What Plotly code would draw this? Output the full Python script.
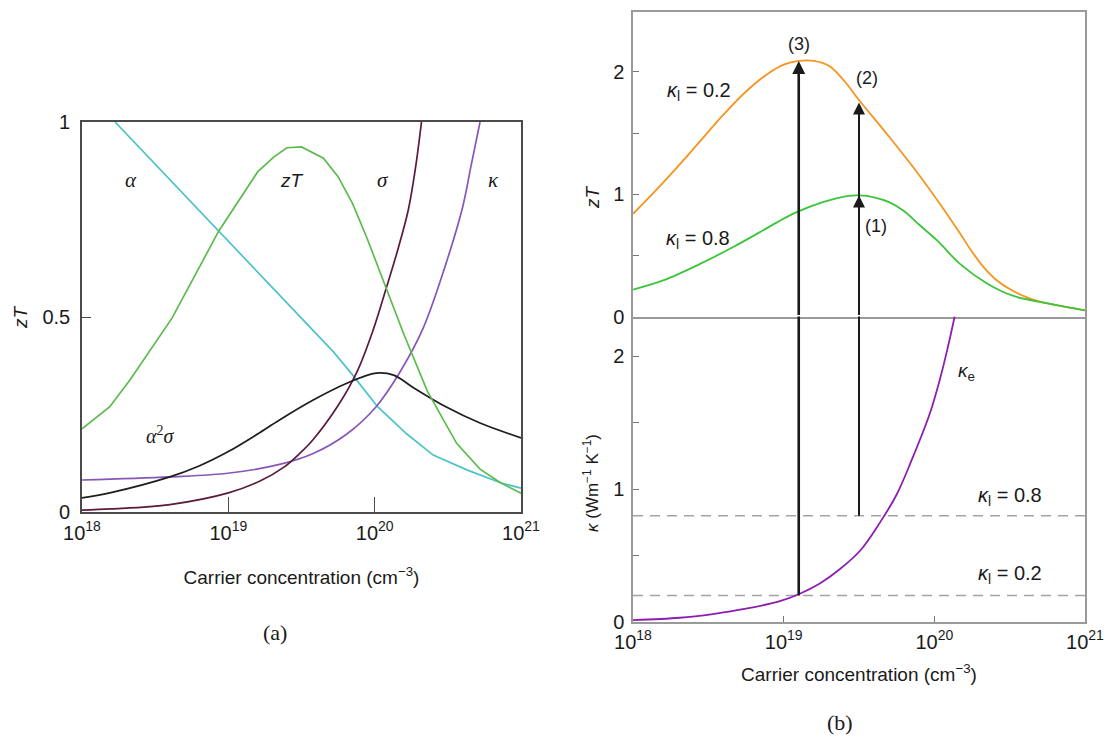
import plotly.graph_objects as go

W, H = 1109, 742

# ---------------- Panel (a) data: log10(carrier concentration) and values ----------------
alpha_logn = [18.226, 18.5, 18.934, 19.2, 19.49, 19.58, 19.72, 19.85, 20.02, 20.22, 20.40, 20.63, 20.86, 21.0]
alpha_val = [1.0, 0.892, 0.72, 0.615, 0.50, 0.467, 0.41, 0.351, 0.27, 0.20, 0.146, 0.108, 0.075, 0.061]

zta_logn = [18.0, 18.19, 18.33, 18.465, 18.615, 18.934, 19.2, 19.31, 19.40, 19.50, 19.58, 19.65, 19.75,
            19.85, 19.95, 20.08, 20.20, 20.36, 20.56, 20.72, 20.86, 21.0]
zta_val = [0.213, 0.27, 0.34, 0.415, 0.497, 0.72, 0.872, 0.91, 0.934, 0.936, 0.92, 0.907, 0.86,
           0.79, 0.70, 0.574, 0.455, 0.31, 0.176, 0.11, 0.075, 0.048]

sigma_logn = [18.0, 18.2, 18.6, 19.0, 19.22, 19.38, 19.49, 19.58, 19.75, 19.88, 19.99, 20.08, 20.16, 20.23, 20.28, 20.32]
sigma_val = [0.005, 0.008, 0.019, 0.049, 0.08, 0.115, 0.151, 0.186, 0.273, 0.36, 0.467, 0.575, 0.675, 0.775, 0.885, 1.0]

kappa_logn = [18.0, 18.6, 19.01, 19.35, 19.58, 19.81, 20.01, 20.17, 20.33, 20.49, 20.60, 20.66, 20.72]
kappa_val = [0.082, 0.09, 0.10, 0.122, 0.15, 0.20, 0.27, 0.357, 0.47, 0.64, 0.78, 0.89, 1.0]

pf_logn = [18.0, 18.19, 18.6, 18.8, 19.0, 19.2, 19.35, 19.58, 19.81, 20.01, 20.13, 20.26, 20.49, 20.72, 21.0]
pf_val = [0.036, 0.049, 0.09, 0.118, 0.155, 0.20, 0.236, 0.287, 0.33, 0.356, 0.351, 0.32, 0.269, 0.228, 0.19]

# ---------------- Panel (b) data ----------------
zt02_logn = [18.0, 18.15, 18.3, 18.45, 18.6, 18.75, 18.9, 19.0, 19.1, 19.2, 19.3, 19.4, 19.5,
             19.68, 19.86, 20.02, 20.17, 20.25, 20.33, 20.42, 20.52, 20.65, 20.8, 21.0]
zt02_val = [0.84, 1.03, 1.23, 1.44, 1.65, 1.84, 1.99, 2.06, 2.09, 2.09, 2.05, 1.93, 1.77,
            1.50, 1.22, 0.95, 0.68, 0.53, 0.40, 0.29, 0.21, 0.14, 0.095, 0.05]

zt08_logn = [18.0, 18.2, 18.445, 18.665, 18.843, 18.97, 19.09, 19.26, 19.42, 19.50, 19.6, 19.7, 19.8,
             19.9, 20.02, 20.17, 20.35, 20.52, 20.75, 21.0]
zt08_val = [0.22, 0.295, 0.43, 0.568, 0.69, 0.78, 0.855, 0.935, 0.985, 0.99, 0.975, 0.935, 0.86,
            0.75, 0.62, 0.43, 0.27, 0.17, 0.107, 0.05]

ke_logn = [18.0, 18.31, 18.53, 18.75, 18.975, 19.10, 19.24, 19.37, 19.51, 19.64, 19.75, 19.85,
           19.97, 20.04, 20.09, 20.135]
ke_val = [0.014, 0.032, 0.06, 0.10, 0.157, 0.209, 0.29, 0.395, 0.54, 0.75, 0.96, 1.22,
          1.57, 1.84, 2.07, 2.30]

kl_levels = [0.8, 0.2]
n_span = [18.0, 21.0]

# arrows: label, log10 n, starting kappa, zT tip
arrow_labels = ["(3)", "(2)", "(1)"]
arrow_logn = [19.10, 19.50, 19.50]
arrow_kappa = [0.2, 0.8, 0.8]
arrow_zt = [2.09, 1.75, 0.99]

x_tickvals = [1e18, 1e19, 1e20, 1e21]
x_ticktext = ["10<sup>18</sup>", "10<sup>19</sup>", "10<sup>20</sup>", "10<sup>21</sup>"]


def conc(logs):
    return [10 ** v for v in logs]


SANS = "Liberation Sans, Arial, sans-serif"
NARROW = "Liberation Sans Narrow, Liberation Sans, Arial, sans-serif"
SERIF = "Liberation Serif, DejaVu Serif, serif"
FRAME_A = "#4a4a4a"
FRAME_B = "#9a9a9a"

fig = go.Figure()


def line(xs, ys, color, width, xa, ya, dash=None, shape="linear"):
    fig.add_trace(go.Scatter(x=xs, y=ys, mode="lines",
                             line=dict(color=color, width=width, dash=dash, shape=shape),
                             xaxis=xa, yaxis=ya, showlegend=False, hoverinfo="skip"))


# panel (a)
line(conc(alpha_logn), alpha_val, "#4cc2c9", 1.7, "x", "y")
line(conc(kappa_logn), kappa_val, "#8656b8", 1.7, "x", "y", shape="spline")
line(conc(sigma_logn), sigma_val, "#5b1a3c", 1.7, "x", "y", shape="spline")
line(conc(pf_logn), pf_val, "#1e1e1e", 1.7, "x", "y", shape="spline")
line(conc(zta_logn), zta_val, "#5bbb4c", 1.7, "x", "y")

# panel (b) top
line(conc(zt02_logn), zt02_val, "#f7941d", 1.8, "x2", "y2", shape="spline")
line(conc(zt08_logn), zt08_val, "#3dc43d", 1.8, "x2", "y2", shape="spline")

# panel (b) bottom
for lv in kl_levels:
    line(conc(n_span), [lv, lv], "#a3a3a3", 1.6, "x3", "y3", dash="10px,7px")
line(conc(ke_logn), ke_val, "#8e1eb0", 1.8, "x3", "y3", shape="spline")

# arrow shafts in the bottom panel (from kappa level up to the top of the panel)
arrow_widths = [2.6, 2.0, 2.0]
for i in range(2):
    line(conc([arrow_logn[i], arrow_logn[i]]), [arrow_kappa[i], 3.0], "#1a1a1a", arrow_widths[i], "x3", "y3")


def px(x):
    return x / W


def py(y):
    return 1 - y / H


annotations = []
# arrows in the top panel (tail at zT = 0)
for i in range(3):
    annotations.append(dict(x=arrow_logn[i], y=arrow_zt[i], xref="x2", yref="y2",
                            ax=arrow_logn[i], ay=0, axref="x2", ayref="y2",
                            showarrow=True, arrowhead=2, arrowsize=1.0 if i == 0 else 1.2,
                            arrowwidth=arrow_widths[i], arrowcolor="#1a1a1a", text=""))


def text(t, x, y, size=18, family=SANS, angle=0, color="#1a1a1a"):
    annotations.append(dict(text=t, x=px(x), y=py(y), xref="paper", yref="paper",
                            showarrow=False, xanchor="center", yanchor="middle",
                            textangle=angle, font=dict(family=family, size=size, color=color)))


# panel (a) curve labels
text("<i>α</i>", 131, 180, 21, SERIF)
text("<i>zT</i>", 292, 180, 19, SANS)
text("<i>σ</i>", 383, 180, 21, SERIF)
text("<i>κ</i>", 493, 180, 21, SERIF)
text("<i>α</i><sup>2</sup><i>σ</i>", 160, 435, 20, SERIF)
text("(a)", 275, 632, 22, SERIF)

# panel (b) labels
text("<i>κ</i><sub>l</sub> = 0.2", 699, 92, 20)
text("<i>κ</i><sub>l</sub> = 0.8", 698, 240, 20)
text(arrow_labels[0], 799, 44, 18)
text(arrow_labels[1], 867, 78, 18)
text(arrow_labels[2], 876, 226, 18)
text("<i>κ</i><sub>e</sub>", 966, 372, 19)
text("<i>κ</i><sub>l</sub> = 0.8", 1010, 496, 20)
text("<i>κ</i><sub>l</sub> = 0.2", 1010, 574, 20)
text("(b)", 840, 722, 22, SERIF)

# y-axis titles
text("<i>zT</i>", 21, 317, 19, SANS, angle=-90)
text("<i>zT</i>", 592, 197, 19, SANS, angle=-90)
text("<i>κ</i> (Wm<sup>−1</sup> K<sup>−1</sup>)", 591, 483, 17, NARROW, angle=-90)

tickfont = dict(family=SANS, size=20, color="#1a1a1a")
titlefont = dict(family=NARROW, size=19, color="#1a1a1a")

xa_common = dict(type="log", range=[18, 21], showgrid=False, zeroline=False, automargin=False,
                 showline=True, tickvals=x_tickvals, ticktext=x_ticktext, tickfont=tickfont)

fig.update_layout(
    width=W, height=H, margin=dict(l=0, r=0, t=0, b=0, pad=0),
    paper_bgcolor="white", plot_bgcolor="white",
    xaxis=dict(**xa_common, domain=[px(82), px(521)], anchor="y", mirror=True,
               ticks="inside", ticklen=15, tickcolor=FRAME_A, tickwidth=1.3,
               linecolor=FRAME_A, linewidth=1.6, ticklabelstandoff=2,
               title=dict(text="Carrier concentration (cm<sup>−3</sup>)", font=titlefont, standoff=28)),
    yaxis=dict(domain=[py(512), py(122)], range=[0, 1], anchor="x", showgrid=False, zeroline=False,
               showline=True, mirror=True, linecolor=FRAME_A, linewidth=1.6, automargin=False,
               tickvals=[0, 0.5, 1], ticktext=["0", "0.5", "1"], ticks="inside", ticklen=9,
               tickcolor=FRAME_A, tickwidth=1.3, tickfont=tickfont, ticklabelstandoff=6),
    xaxis2=dict(**{k: v for k, v in xa_common.items() if k not in ("tickvals", "ticktext")},
                domain=[px(633), px(1085)], anchor="y2", mirror=True, showticklabels=False, ticks="",
                linecolor=FRAME_B, linewidth=1.5),
    yaxis2=dict(domain=[py(316.5), py(12)], range=[0, 2.49], anchor="x2", showgrid=False, zeroline=False,
                showline=True, mirror=True, linecolor=FRAME_B, linewidth=1.5, automargin=False,
                tickvals=[0, 0.5, 1, 1.5, 2], ticktext=["0", "", "1", "", "2"], ticks="inside",
                ticklen=6, tickcolor="#777", tickwidth=1, tickfont=tickfont, ticklabelstandoff=3),
    xaxis3=dict(**xa_common, domain=[px(633), px(1085)], anchor="y3", mirror=False,
                ticks="inside", ticklen=6, tickcolor="#777", tickwidth=1,
                linecolor=FRAME_B, linewidth=1.5, ticklabelstandoff=1,
                title=dict(text="Carrier concentration (cm<sup>−3</sup>)", font=titlefont, standoff=16)),
    yaxis3=dict(domain=[py(622), py(316.5)], range=[0, 2.30], anchor="x3", showgrid=False, zeroline=False,
                showline=True, mirror=True, linecolor=FRAME_B, linewidth=1.5, automargin=False,
                tickvals=[0, 0.5, 1, 1.5, 2], ticktext=["0", "", "1", "", "2"], ticks="inside",
                ticklen=6, tickcolor="#777", tickwidth=1, tickfont=tickfont, ticklabelstandoff=3),
    annotations=annotations,
)

# remove the default page margin so the figure fills the window exactly; hide the mode bar
fig.write_html("out.html", config={"displayModeBar": False},
               post_script="document.body.style.margin='0px';document.body.style.overflow='hidden';")
